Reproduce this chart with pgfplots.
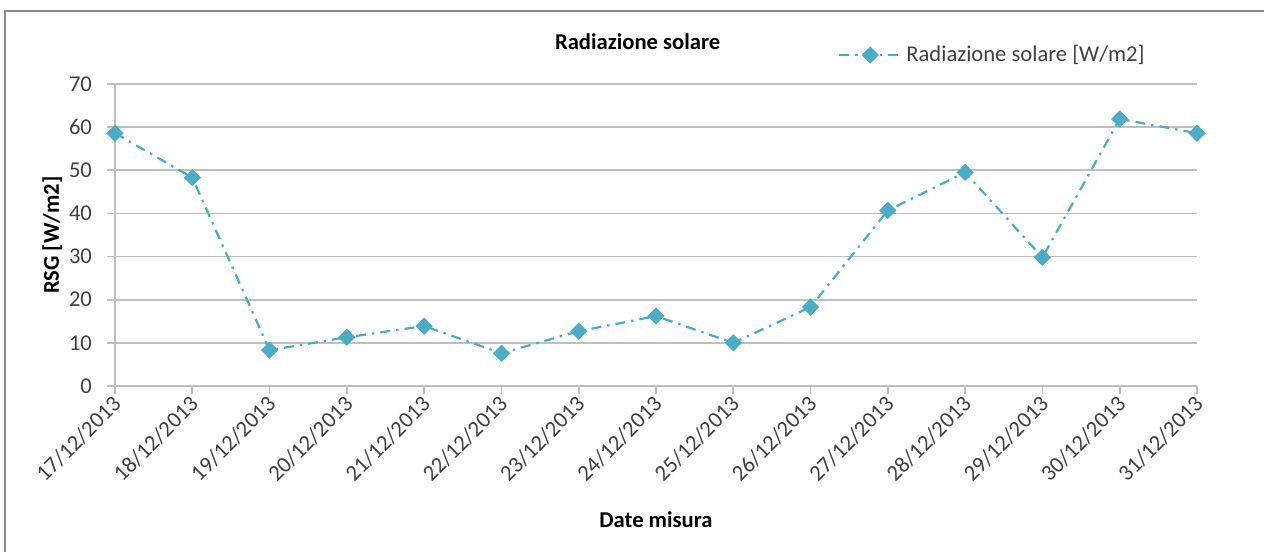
\documentclass[border=0pt]{standalone}
\usepackage{pgfplots}
\pgfplotsset{compat=1.18}
\usepackage{fontspec}
\setmainfont{Carlito}
\definecolor{serie}{HTML}{4BACC6}
\definecolor{griglia}{HTML}{BFBFBF}
\definecolor{testo}{HTML}{404040}

\begin{document}
\begin{tikzpicture}
\useasboundingbox (0,0) rectangle (632pt,276pt);
\draw[color=black!45, line width=1pt] (2.5pt,0) -- (2.5pt,270.5pt) -- (632pt,270.5pt);
\begin{axis}[
    at={(57.5pt,83pt)}, anchor=south west,
    scale only axis, width=541pt, height=151pt,
    xmin=0, xmax=14, ymin=0, ymax=70,
    ytick={0,10,...,70},
    xtick={0,...,14},
    xticklabels={17/12/2013,18/12/2013,19/12/2013,20/12/2013,21/12/2013,22/12/2013,23/12/2013,24/12/2013,25/12/2013,26/12/2013,27/12/2013,28/12/2013,29/12/2013,30/12/2013,31/12/2013},
    axis x line*=bottom, axis y line*=left,
    x axis line style={-, griglia, line width=0.9pt},
    y axis line style={-, griglia, line width=0.9pt},
    ymajorgrids, major grid style={griglia, line width=0.9pt},
    tick align=outside, major tick length=4pt,
    tick style={griglia, line width=0.9pt},
    /pgf/number format/assume math mode=true,
    tick label style={font=\fontsize{11.3}{13}\selectfont, text=testo},
    yticklabel style={xshift=-4pt},
    xticklabel style={rotate=45, anchor=east, xshift=2pt, yshift=-3pt},
    title={\textbf{Radiazione solare}},
    title style={at={(axis description cs:0.483,1.139)}, anchor=center, yshift=-6pt, font=\fontsize{11.3}{13}\selectfont},
    xlabel={\textbf{Date misura}},
    xlabel style={at={(axis description cs:0.5,-0.444)}, anchor=center, font=\fontsize{11.3}{13}\selectfont},
    ylabel={\textbf{RSG [W/m2]}},
    ylabel style={at={(axis description cs:-0.058,0.5)}, anchor=center, font=\fontsize{11.3}{13}\selectfont},
    legend style={at={(axis description cs:0.668,1.096)}, anchor=west, draw=none, fill=none,
        font=\fontsize{11.3}{13}\selectfont, text=testo, inner sep=0pt,
        cells={anchor=west}},
    legend image code/.code={
        \draw[mark repeat=2, mark phase=2] plot coordinates {(0pt,0pt) (15.5pt,0pt) (31pt,0pt)};
    },
    clip=false,
]
\addplot[serie, line width=1.1pt, dash pattern=on 5pt off 3pt on 1.2pt off 3pt,
    mark=square*, mark size=2.5pt, mark options={solid, rotate=45, fill=serie, draw=serie}]
coordinates {
(0,58.6) (1,48.3) (2,8.3) (3,11.3) (4,13.9) (5,7.6) (6,12.7) (7,16.2)
(8,10.0) (9,18.3) (10,40.7) (11,49.5) (12,29.8) (13,61.9) (14,58.6)
};
\addlegendentry{Radiazione solare [W/m2]}
\end{axis}
\end{tikzpicture}
\end{document}
